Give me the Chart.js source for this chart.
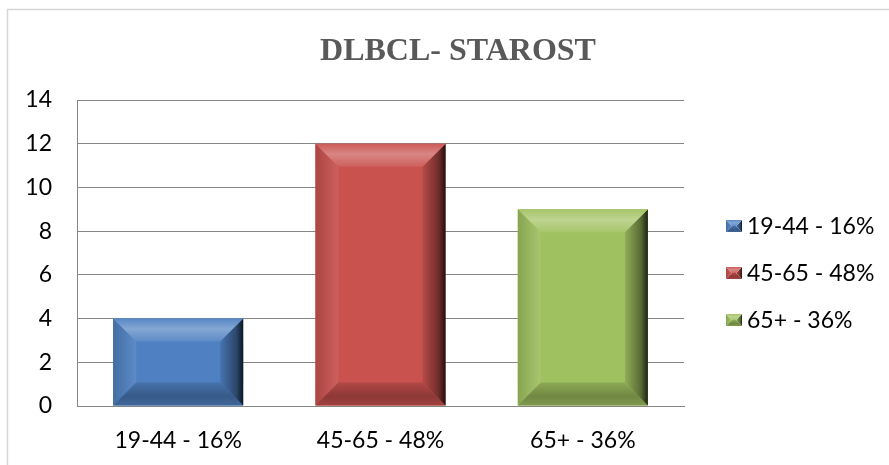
<!DOCTYPE html>
<html>
<head>
<meta charset="utf-8">
<script src="https://cdn.jsdelivr.net/npm/chart.js@4/dist/chart.umd.min.js"></script>
<style>
  html, body { margin: 0; padding: 0; background: #fff; }
  #wrap { width: 889px; height: 465px; }
</style>
</head>
<body>
<div id="wrap"><canvas id="starostChart" width="889" height="465"></canvas></div>
<script>
/* DATA */
var kategorije = ["19-44 - 16%", "45-65 - 48%", "65+ - 36%"];
var vrednosti = [4, 12, 9];
var yTicks = [0, 2, 4, 6, 8, 10, 12, 14];
var naslov = "DLBCL- STAROST";

/* barve stolpcev */
var barve = ["#4f81c2", "#c9524f", "#a0c160"];

function mesaj(hex, cilj, t) {
  var r = parseInt(hex.substr(1, 2), 16), g = parseInt(hex.substr(3, 2), 16), b = parseInt(hex.substr(5, 2), 16);
  r = Math.round(r + (cilj - r) * t);
  g = Math.round(g + (cilj - g) * t);
  b = Math.round(b + (cilj - b) * t);
  return "rgb(" + r + "," + g + "," + b + ")";
}

/* bevel ucinek (kot v Excelu) */
function narisiBevel(ctx, x0, y0, x1, y1, b, barva) {
  var gr;
  // levo
  gr = ctx.createLinearGradient(x0, 0, x0 + b, 0);
  gr.addColorStop(0, mesaj(barva, 0, 0.15));
  gr.addColorStop(1, mesaj(barva, 255, 0.08));
  ctx.fillStyle = gr;
  ctx.beginPath();
  ctx.moveTo(x0, y0); ctx.lineTo(x0 + b, y0 + b); ctx.lineTo(x0 + b, y1 - b); ctx.lineTo(x0, y1);
  ctx.closePath(); ctx.fill();
  // spodaj
  gr = ctx.createLinearGradient(0, y1 - b, 0, y1);
  gr.addColorStop(0, mesaj(barva, 0, 0.12));
  gr.addColorStop(0.6, mesaj(barva, 0, 0.3));
  gr.addColorStop(1, mesaj(barva, 0, 0.2));
  ctx.fillStyle = gr;
  ctx.beginPath();
  ctx.moveTo(x0, y1); ctx.lineTo(x1, y1); ctx.lineTo(x1 - b, y1 - b); ctx.lineTo(x0 + b, y1 - b);
  ctx.closePath(); ctx.fill();
  // desno
  gr = ctx.createLinearGradient(x1 - b, 0, x1, 0);
  gr.addColorStop(0, mesaj(barva, 0, 0.1));
  gr.addColorStop(0.7, mesaj(barva, 0, 0.45));
  gr.addColorStop(1, mesaj(barva, 0, 0.82));
  ctx.fillStyle = gr;
  ctx.beginPath();
  ctx.moveTo(x1, y0); ctx.lineTo(x1, y1); ctx.lineTo(x1 - b, y1 - b); ctx.lineTo(x1 - b, y0 + b);
  ctx.closePath(); ctx.fill();
  // zgoraj
  gr = ctx.createLinearGradient(0, y0, 0, y0 + b);
  gr.addColorStop(0, mesaj(barva, 255, 0.05));
  gr.addColorStop(0.45, mesaj(barva, 255, 0.3));
  gr.addColorStop(1, mesaj(barva, 255, 0.08));
  ctx.fillStyle = gr;
  ctx.beginPath();
  ctx.moveTo(x0, y0); ctx.lineTo(x1, y0); ctx.lineTo(x1 - b, y0 + b); ctx.lineTo(x0 + b, y0 + b);
  ctx.closePath(); ctx.fill();
}

var okvirPlugin = {
  id: "okvir",
  beforeDraw: function (chart) {
    var ctx = chart.ctx;
    ctx.save();
    ctx.fillStyle = "#fff";
    ctx.fillRect(0, 0, chart.width, chart.height);
    ctx.strokeStyle = "#d6d6d6";
    ctx.lineWidth = 1.5;
    ctx.strokeRect(7.5, 9.5, 1000, 1000);
    ctx.restore();
  }
};

var bevelPlugin = {
  id: "bevel",
  afterDatasetsDraw: function (chart) {
    var ctx = chart.ctx;
    var meta = chart.getDatasetMeta(0);
    ctx.save();
    meta.data.forEach(function (bar, i) {
      var p = bar.getProps(["x", "y", "base", "width"], true);
      var x0 = p.x - p.width / 2, x1 = p.x + p.width / 2;
      var y0 = Math.min(p.y, p.base), y1 = Math.max(p.y, p.base);
      var b = Math.min(23, (y1 - y0) / 2, p.width / 2);
      narisiBevel(ctx, x0, y0, x1, y1, b, barve[i]);
    });
    ctx.restore();
  },
  afterDraw: function (chart) {
    var ctx = chart.ctx;
    var ca = chart.chartArea;
    ctx.save();
    // naslov
    ctx.fillStyle = "#595959";
    ctx.font = "bold 32px 'Liberation Serif', 'Times New Roman', serif";
    ctx.textAlign = "center";
    ctx.textBaseline = "middle";
    ctx.fillText(naslov, 458, 52);
    // legenda
    var sredina = (ca.top + ca.bottom) / 2 + 20;
    ctx.font = "23px Lato, 'Open Sans', sans-serif";
    ctx.textAlign = "left";
    for (var i = 0; i < kategorije.length; i++) {
      var y = sredina + (i - 1) * 47;
      narisiBevel(ctx, 726, y - 6, 742, y + 6, 6, barve[i]);
      ctx.fillStyle = "#000";
      ctx.fillText(kategorije[i], 747, y + 1);
    }
    ctx.restore();
  }
};

var ctx = document.getElementById("starostChart");
var myChart = new Chart(ctx, {
  type: "bar",
  data: {
    labels: kategorije,
    datasets: [{
      label: naslov,
      data: vrednosti,
      backgroundColor: barve,
      borderWidth: 0,
      barPercentage: 1,
      categoryPercentage: 0.643
    }]
  },
  options: {
    responsive: false,
    animation: false,
    events: [],
    layout: { padding: { top: 100, right: 205, bottom: 0, left: 0 } },
    plugins: {
      legend: { display: false },
      title: { display: false },
      tooltip: { enabled: false }
    },
    scales: {
      x: {
        grid: { display: false, drawTicks: false },
        border: { display: true, color: "#868686", width: 1 },
        ticks: { color: "#000", padding: 21, font: { family: "Lato", size: 23 } },
        afterFit: function (scale) { scale.height = 59; }
      },
      y: {
        min: yTicks[0],
        max: yTicks[yTicks.length - 1],
        afterBuildTicks: function (scale) {
          scale.ticks = yTicks.map(function (v) { return { value: v }; });
        },
        grid: { color: "#868686", lineWidth: 1, drawTicks: false },
        border: { display: true, color: "#868686", width: 1 },
        ticks: { color: "#000", padding: 25, font: { family: "Lato", size: 23 } },
        afterFit: function (scale) { scale.width = 77; }
      }
    }
  },
  plugins: [okvirPlugin, bevelPlugin]
});
</script>
</body>
</html>
